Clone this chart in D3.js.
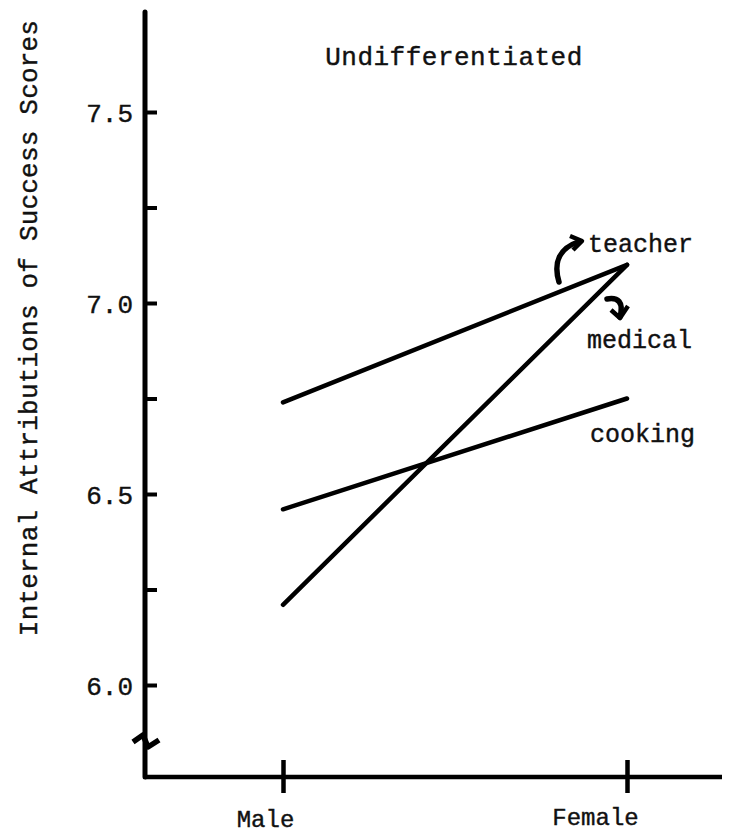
<!DOCTYPE html>
<html><head><meta charset="utf-8">
<script src="https://cdn.jsdelivr.net/npm/d3@7"></script>
<style>
body{margin:0;background:#fff;}
svg text{font-family:"Liberation Mono","DejaVu Sans Mono",monospace;fill:#111;}
</style></head>
<body><svg id="c" width="732" height="836"></svg>
<script>
// ---- data ----
const groups = ["Male", "Female"];
const seriesNames = ["teacher", "medical", "cooking"];
const teacher = [6.74, 7.10];
const medical = [6.21, 7.10];
const cooking = [6.46, 6.75];
const yTickValues = [6.0, 6.25, 6.5, 6.75, 7.0, 7.25, 7.5];
const yTickLabels = ["6.0", "", "6.5", "", "7.0", "", "7.5"];
const title = "Undifferentiated";
const yTitle = "Internal Attributions of Success Scores";

const svg = d3.select("#c");
const axisX = 145, axisBottom = 777, axisTop = 12, axisRight = 722;

const y = d3.scaleLinear().domain([6.0, 7.5]).range([685, 112]);
const x = d3.scalePoint().domain(groups).range([283, 627]);

// lines
const line = d3.line().x((d, i) => x(groups[i])).y(d => y(d));
const allSeries = [teacher, medical, cooking];
svg.append("g").selectAll("path").data(allSeries).join("path")
  .attr("d", d => line(d))
  .attr("fill", "none").attr("stroke", "#000").attr("stroke-width", 4.5)
  .attr("stroke-linecap", "round");

// y axis
const yAxis = d3.axisLeft(y).tickValues(yTickValues)
  .tickFormat((d, i) => yTickLabels[i]).tickSizeInner(-12).tickSizeOuter(0).tickPadding(12);
const gy = svg.append("g").attr("transform", `translate(${axisX},0)`).call(yAxis);
gy.select(".domain").remove();
gy.selectAll(".tick line").attr("stroke", "#000").attr("stroke-width", 4);
gy.selectAll(".tick text").attr("font-size", 26).attr("fill", "#111")
  .attr("font-family", "Liberation Mono, monospace").attr("dy", "0.35em")
  .attr("stroke", "#111").attr("stroke-width", 0.4);
svg.append("line").attr("x1", axisX).attr("x2", axisX).attr("y1", axisTop).attr("y2", axisBottom)
  .attr("stroke", "#000").attr("stroke-width", 5).attr("stroke-linecap", "round");

// break mark
svg.append("path").attr("d", `M${axisX-12},${axisBottom-35} L${axisX-2},${axisBottom-42} L${axisX+3},${axisBottom-30} L${axisX+14},${axisBottom-37}`)
  .attr("fill", "none").attr("stroke", "#000").attr("stroke-width", 5.5).attr("stroke-linejoin", "round");

// x axis
svg.append("line").attr("x1", axisX).attr("x2", axisRight).attr("y1", axisBottom).attr("y2", axisBottom)
  .attr("stroke", "#000").attr("stroke-width", 4.5);
const xAxis = d3.axisBottom(x).tickSizeInner(16).tickSizeOuter(0).tickPadding(26);
const gx = svg.append("g").attr("transform", `translate(0,${axisBottom})`).call(xAxis);
gx.select(".domain").remove();
gx.selectAll(".tick line").attr("y1", -17).attr("stroke", "#000").attr("stroke-width", 4.5);
gx.selectAll(".tick text").attr("font-size", 24).attr("fill", "#111")
  .attr("font-family", "Liberation Mono, monospace")
  .attr("stroke", "#111").attr("stroke-width", 0.4)
  .attr("dy", 0).attr("y", (d, i) => i === 0 ? 50 : 48)
  .attr("dx", (d, i) => i === 0 ? -18 : -32);

// title
svg.append("text").attr("x", 454).attr("y", 65).attr("text-anchor", "middle")
  .attr("font-size", 26).attr("letter-spacing", 0.5)
  .attr("stroke", "#111").attr("stroke-width", 0.4).text(title);

// y title
svg.append("text").attr("transform", "translate(37,328) rotate(-90)")
  .attr("text-anchor", "middle").attr("font-size", 26).attr("letter-spacing", 0.2)
  .attr("stroke", "#111").attr("stroke-width", 0.4).text(yTitle);

// series labels
const labelY = [252, 348, 442];
const labelX = [588, 587, 590];
svg.append("g").selectAll("text").data(seriesNames).join("text")
  .attr("x", (d, i) => labelX[i]).attr("y", (d, i) => labelY[i])
  .attr("font-size", 25).attr("stroke", "#111").attr("stroke-width", 0.4).text(d => d);

// curved arrows
svg.append("path").attr("d", "M559,282 C553,262 560,248 578,242")
  .attr("fill", "none").attr("stroke", "#000").attr("stroke-width", 5.5).attr("stroke-linecap", "round");
svg.append("path").attr("d", "M570,236 L582,241 L573,250")
  .attr("fill", "none").attr("stroke", "#000").attr("stroke-width", 4.5).attr("stroke-linejoin", "round");
svg.append("path").attr("d", "M607,299 C618,297 624,302 620,317")
  .attr("fill", "none").attr("stroke", "#000").attr("stroke-width", 5.5).attr("stroke-linecap", "round");
svg.append("path").attr("d", "M611,310 L620,318 L628,306")
  .attr("fill", "none").attr("stroke", "#000").attr("stroke-width", 4.5).attr("stroke-linejoin", "round");
</script></body></html>
